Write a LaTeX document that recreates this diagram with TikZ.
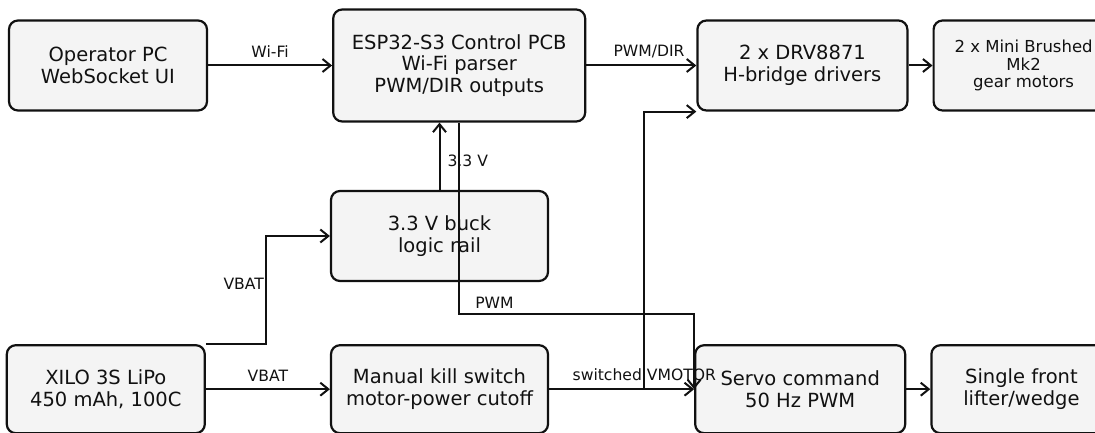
\documentclass[tikz,border=0pt]{standalone}
\usepackage{fontspec}
\setmainfont{DejaVu Sans}
\usepackage{tikz}
\usetikzlibrary{calc,arrows.meta,positioning}
\definecolor{boxfill}{HTML}{F4F4F4}
\definecolor{ink}{HTML}{111111}
\tikzset{
block/.style={rectangle, rounded corners=9pt, draw=ink, line width=2.2pt, fill=boxfill, text=ink, align=center, inner sep=2pt, minimum height=90pt, font=\fontsize{19.5}{21.5}\selectfont},
small_block/.style={block, font=\fontsize{16.5}{17.5}\selectfont},
wire/.style={draw=ink, line width=2pt, -{Straight Barb[length=8pt,width=13pt]}},
wire_label/.style={text=ink, inner sep=1pt, font=\fontsize{15.6}{17}\selectfont}
}

\begin{document}
\begin{tikzpicture}[x=1pt, y=-1pt]
    \useasboundingbox (0,0) rectangle (1095,433);
    \clip (0,0) rectangle (1095,433);
    % top row
    \node[block, minimum width=198pt] (op_pc) at (108,65.5) {Operator PC\\WebSocket UI};
    \node[block, minimum width=252pt, minimum height=112pt] (esp) [right=124pt of op_pc] {ESP32-S3 Control PCB\\Wi-Fi parser\\PWM/DIR outputs};
    \node[block, minimum width=210pt] (drv) [right=110pt of esp] {2 x DRV8871\\H-bridge drivers};
    \node[small_block, minimum width=180pt] (motors) [right=24pt of drv] {2 x Mini Brushed\\Mk2\\gear motors};
    % power
    \node[block, minimum width=217pt] (buck) at (439.5,236) {3.3 V buck\\logic rail};
    \node[block, minimum width=217pt, minimum height=88pt] (kill) [below=62pt of buck] {Manual kill switch\\motor-power cutoff};
    \node[block, minimum width=198pt, minimum height=88pt] (lipo) [left=124pt of kill] {XILO 3S LiPo\\450 mAh, 100C};
    \node[block, minimum width=210pt, minimum height=88pt] (servo) [right=145pt of kill] {Servo command\\50 Hz PWM};
    \node[block, minimum width=180pt, minimum height=88pt] (lifter) [right=24pt of servo] {Single front\\lifter/wedge};

    \draw[wire] (op_pc.east) -- node[wire_label, above=6pt] {Wi-Fi} (esp.west);
    \draw[wire] (esp.east) -- node[wire_label, above=6pt, pos=0.57] {PWM/DIR} (drv.west);
    \draw[wire] (drv) -- (motors);
    \draw[wire] (buck.north) -- node[wire_label, right=6pt, pos=0.43] {3.3 V} (buck.north |- esp.south);
    \draw[wire] (esp.south) -- ++(0,191) -| node[wire_label, above=3pt, pos=0.075] {PWM} (servo.west);
    \draw[wire] (lipo.east) -- node[wire_label, above=6pt] {VBAT} (kill.west);
    \draw[wire] (lipo.north east) -- ++(60,0) |- node[wire_label, left=0pt, pos=0.28] {VBAT} (buck.west);
    \draw[wire] (kill.east) -- (servo.west);
    \draw[wire] (kill.east) -| node[wire_label, above=6pt] {switched VMOTOR} ($(drv.south west)+(-52,0)$) -- (drv.south west);
    \draw[wire] (servo) -- (lifter);
\end{tikzpicture}
\end{document}
